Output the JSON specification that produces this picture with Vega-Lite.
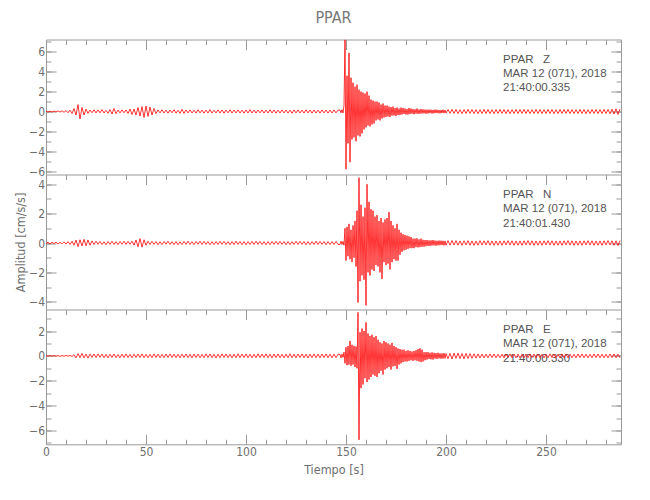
{
"$schema": "https://vega.github.io/schema/vega-lite/v6.json",
"padding": {"left": 14, "top": 9.5, "right": 5, "bottom": 5},
"background": "white",
"datasets": {
"ann": [
{"p":1,"t":228.5,"y":5.19,"label":"PPAR\u00a0\u00a0\u00a0Z"},
{"p":1,"t":228.5,"y":3.76,"label":"MAR 12 (071), 2018"},
{"p":1,"t":228.5,"y":2.32,"label":"21:40:00.335"},
{"p":2,"t":228.5,"y":3.28,"label":"PPAR\u00a0\u00a0\u00a0N"},
{"p":2,"t":228.5,"y":2.28,"label":"MAR 12 (071), 2018"},
{"p":2,"t":228.5,"y":1.29,"label":"21:40:01.430"},
{"p":3,"t":228.5,"y":2.07,"label":"PPAR\u00a0\u00a0\u00a0E"},
{"p":3,"t":228.5,"y":0.94,"label":"MAR 12 (071), 2018"},
{"p":3,"t":228.5,"y":-0.26,"label":"21:40:00.330"}
],
"wave": [
{"t":0,"z":0.03,"n":-0.04,"e":0.02},
{"t":1,"z":-0.05,"n":0.05,"e":-0.03},
{"t":2,"z":0.04,"n":-0.06,"e":0.03},
{"t":3,"z":-0.06,"n":0.05,"e":-0.02},
{"t":4,"z":0.05,"n":-0.04,"e":0.03},
{"t":5,"z":-0.04,"n":0.06,"e":-0.03},
{"t":6,"z":0.06,"n":-0.07,"e":0.02},
{"t":7,"z":-0.05,"n":0.05,"e":-0.04},
{"t":8,"z":0.07,"n":-0.06,"e":0.03},
{"t":9,"z":-0.08,"n":0.08,"e":-0.03},
{"t":10,"z":0.1,"n":-0.07,"e":0.04},
{"t":11,"z":-0.12,"n":0.09,"e":-0.03},
{"t":12,"z":0.14,"n":-0.1,"e":0.04},
{"t":13,"z":-0.2,"n":0.12,"e":-0.05},
{"t":14,"z":0.3,"n":-0.15,"e":0.1},
{"t":15,"z":-0.35,"n":0.2,"e":-0.15},
{"t":16,"z":0.7,"n":-0.25,"e":0.18},
{"t":17,"z":-0.75,"n":0.22,"e":-0.14},
{"t":18,"z":0.4,"n":-0.2,"e":0.2},
{"t":19,"z":-0.35,"n":0.25,"e":-0.16},
{"t":20,"z":0.25,"n":-0.18,"e":0.15},
{"t":21,"z":-0.2,"n":0.2,"e":-0.18},
{"t":22,"z":0.15,"n":-0.15,"e":0.14},
{"t":23,"z":-0.12,"n":0.14,"e":-0.12},
{"t":24,"z":0.18,"n":-0.1,"e":0.15},
{"t":25,"z":-0.14,"n":0.12,"e":-0.13},
{"t":26,"z":0.16,"n":-0.09,"e":0.16},
{"t":27,"z":-0.13,"n":0.11,"e":-0.11},
{"t":28,"z":0.2,"n":-0.1,"e":0.14},
{"t":29,"z":-0.15,"n":0.08,"e":-0.15},
{"t":30,"z":0.12,"n":-0.12,"e":0.12},
{"t":31,"z":-0.17,"n":0.1,"e":-0.16},
{"t":32,"z":0.2,"n":-0.09,"e":0.13},
{"t":33,"z":-0.25,"n":0.12,"e":-0.12},
{"t":34,"z":0.3,"n":-0.1,"e":0.15},
{"t":35,"z":-0.22,"n":0.09,"e":-0.14},
{"t":36,"z":0.15,"n":-0.11,"e":0.11},
{"t":37,"z":-0.14,"n":0.1,"e":-0.15},
{"t":38,"z":0.17,"n":-0.08,"e":0.14},
{"t":39,"z":-0.12,"n":0.12,"e":-0.12},
{"t":40,"z":0.16,"n":-0.1,"e":0.16},
{"t":41,"z":-0.2,"n":0.11,"e":-0.13},
{"t":42,"z":0.25,"n":-0.09,"e":0.12},
{"t":43,"z":-0.3,"n":0.12,"e":-0.15},
{"t":44,"z":0.25,"n":-0.14,"e":0.14},
{"t":45,"z":-0.35,"n":0.2,"e":-0.12},
{"t":46,"z":0.4,"n":-0.25,"e":0.15},
{"t":47,"z":-0.45,"n":0.3,"e":-0.13},
{"t":48,"z":0.5,"n":-0.28,"e":0.16},
{"t":49,"z":-0.6,"n":0.22,"e":-0.14},
{"t":50,"z":0.55,"n":-0.15,"e":0.12},
{"t":51,"z":-0.5,"n":0.12,"e":-0.15},
{"t":52,"z":0.45,"n":-0.1,"e":0.13},
{"t":53,"z":-0.35,"n":0.11,"e":-0.14},
{"t":54,"z":0.3,"n":-0.09,"e":0.16},
{"t":55,"z":-0.2,"n":0.1,"e":-0.12},
{"t":56,"z":0.16,"n":-0.12,"e":0.14},
{"t":57,"z":-0.13,"n":0.09,"e":-0.15},
{"t":58,"z":0.18,"n":-0.11,"e":0.12},
{"t":59,"z":-0.15,"n":0.1,"e":-0.14},
{"t":60,"z":0.14,"n":-0.08,"e":0.15},
{"t":61,"z":-0.17,"n":0.12,"e":-0.13},
{"t":62,"z":0.15,"n":-0.1,"e":0.16},
{"t":63,"z":-0.12,"n":0.09,"e":-0.12},
{"t":64,"z":0.19,"n":-0.11,"e":0.14},
{"t":65,"z":-0.16,"n":0.1,"e":-0.15},
{"t":66,"z":0.13,"n":-0.12,"e":0.13},
{"t":67,"z":-0.18,"n":0.08,"e":-0.16},
{"t":68,"z":0.22,"n":-0.1,"e":0.14},
{"t":69,"z":-0.2,"n":0.11,"e":-0.12},
{"t":70,"z":0.16,"n":-0.09,"e":0.15},
{"t":71,"z":-0.14,"n":0.12,"e":-0.14},
{"t":72,"z":0.17,"n":-0.1,"e":0.13},
{"t":73,"z":-0.15,"n":0.09,"e":-0.16},
{"t":74,"z":0.13,"n":-0.11,"e":0.15},
{"t":75,"z":-0.16,"n":0.1,"e":-0.13},
{"t":76,"z":0.18,"n":-0.08,"e":0.14},
{"t":77,"z":-0.13,"n":0.12,"e":-0.15},
{"t":78,"z":0.15,"n":-0.1,"e":0.12},
{"t":79,"z":-0.17,"n":0.11,"e":-0.14},
{"t":80,"z":0.14,"n":-0.09,"e":0.16},
{"t":81,"z":-0.15,"n":0.1,"e":-0.13},
{"t":82,"z":0.2,"n":-0.12,"e":0.15},
{"t":83,"z":-0.16,"n":0.09,"e":-0.14},
{"t":84,"z":0.13,"n":-0.11,"e":0.13},
{"t":85,"z":-0.14,"n":0.1,"e":-0.17},
{"t":86,"z":0.17,"n":-0.1,"e":0.14},
{"t":87,"z":-0.15,"n":0.12,"e":-0.15},
{"t":88,"z":0.16,"n":-0.09,"e":0.16},
{"t":89,"z":-0.18,"n":0.11,"e":-0.13},
{"t":90,"z":0.14,"n":-0.1,"e":0.15},
{"t":91,"z":-0.13,"n":0.09,"e":-0.14},
{"t":92,"z":0.18,"n":-0.12,"e":0.13},
{"t":93,"z":-0.16,"n":0.1,"e":-0.16},
{"t":94,"z":0.15,"n":-0.11,"e":0.14},
{"t":95,"z":-0.14,"n":0.12,"e":-0.15},
{"t":96,"z":0.17,"n":-0.09,"e":0.17},
{"t":97,"z":-0.15,"n":0.1,"e":-0.14},
{"t":98,"z":0.13,"n":-0.11,"e":0.15},
{"t":99,"z":-0.17,"n":0.1,"e":-0.13},
{"t":100,"z":0.16,"n":-0.12,"e":0.16},
{"t":101,"z":-0.14,"n":0.09,"e":-0.15},
{"t":102,"z":0.19,"n":-0.1,"e":0.14},
{"t":103,"z":-0.15,"n":0.11,"e":-0.16},
{"t":104,"z":0.14,"n":-0.1,"e":0.13},
{"t":105,"z":-0.16,"n":0.12,"e":-0.15},
{"t":106,"z":0.15,"n":-0.09,"e":0.17},
{"t":107,"z":-0.13,"n":0.11,"e":-0.14},
{"t":108,"z":0.17,"n":-0.1,"e":0.15},
{"t":109,"z":-0.16,"n":0.09,"e":-0.13},
{"t":110,"z":0.14,"n":-0.12,"e":0.16},
{"t":111,"z":-0.15,"n":0.1,"e":-0.15},
{"t":112,"z":0.18,"n":-0.11,"e":0.14},
{"t":113,"z":-0.14,"n":0.1,"e":-0.17},
{"t":114,"z":0.16,"n":-0.09,"e":0.15},
{"t":115,"z":-0.17,"n":0.12,"e":-0.14},
{"t":116,"z":0.13,"n":-0.1,"e":0.16},
{"t":117,"z":-0.15,"n":0.11,"e":-0.15},
{"t":118,"z":0.17,"n":-0.09,"e":0.13},
{"t":119,"z":-0.14,"n":0.1,"e":-0.16},
{"t":120,"z":0.15,"n":-0.12,"e":0.15},
{"t":121,"z":-0.16,"n":0.1,"e":-0.14},
{"t":122,"z":0.14,"n":-0.11,"e":0.17},
{"t":123,"z":-0.18,"n":0.09,"e":-0.15},
{"t":124,"z":0.16,"n":-0.1,"e":0.14},
{"t":125,"z":-0.13,"n":0.12,"e":-0.16},
{"t":126,"z":0.17,"n":-0.1,"e":0.15},
{"t":127,"z":-0.15,"n":0.11,"e":-0.13},
{"t":128,"z":0.14,"n":-0.09,"e":0.16},
{"t":129,"z":-0.16,"n":0.1,"e":-0.15},
{"t":130,"z":0.18,"n":-0.12,"e":0.14},
{"t":131,"z":-0.14,"n":0.1,"e":-0.17},
{"t":132,"z":0.15,"n":-0.11,"e":0.15},
{"t":133,"z":-0.17,"n":0.09,"e":-0.14},
{"t":134,"z":0.16,"n":-0.1,"e":0.16},
{"t":135,"z":-0.15,"n":0.12,"e":-0.15},
{"t":136,"z":0.13,"n":-0.1,"e":0.14},
{"t":137,"z":-0.16,"n":0.11,"e":-0.16},
{"t":138,"z":0.17,"n":-0.09,"e":0.15},
{"t":139,"z":-0.14,"n":0.1,"e":-0.13},
{"t":140,"z":0.15,"n":-0.12,"e":0.16},
{"t":141,"z":-0.16,"n":0.1,"e":-0.15},
{"t":142,"z":0.14,"n":-0.11,"e":0.14},
{"t":143,"z":-0.15,"n":0.09,"e":-0.16},
{"t":144,"z":0.17,"n":-0.1,"e":0.15},
{"t":145,"z":-0.13,"n":0.11,"e":-0.14},
{"t":146,"z":0.15,"n":-0.1,"e":0.13},
{"t":147,"z":0.15,"n":-0.1,"e":0.12},
{"t":147.5,"z":-0.12,"n":0.12,"e":-0.15},
{"t":148,"z":0.18,"n":-0.1,"e":0.14},
{"t":148.5,"z":-0.15,"n":0.1,"e":-0.12},
{"t":149,"z":0.6,"n":-0.15,"e":0.3},
{"t":149.5,"z":7.2,"n":1.0,"e":-0.6},
{"t":150,"z":-5.8,"n":-1.2,"e":0.7},
{"t":150.5,"z":3.6,"n":1.1,"e":-0.75},
{"t":151,"z":-3.2,"n":-0.9,"e":0.8},
{"t":151.5,"z":5.9,"n":1.3,"e":-0.7},
{"t":152,"z":-5.1,"n":-1.1,"e":1.2},
{"t":152.5,"z":3.4,"n":0.9,"e":-0.8},
{"t":153,"z":-2.8,"n":-1.3,"e":0.9},
{"t":153.5,"z":2.9,"n":1.2,"e":-0.7},
{"t":154,"z":-2.6,"n":-1.0,"e":0.8},
{"t":154.5,"z":2.5,"n":1.5,"e":-0.9},
{"t":155,"z":-3.0,"n":-1.6,"e":0.75},
{"t":155.5,"z":2.7,"n":2.2,"e":-1.0},
{"t":156,"z":-2.4,"n":-4.05,"e":3.5},
{"t":156.5,"z":2.2,"n":4.45,"e":-6.75},
{"t":157,"z":-2.5,"n":-2.6,"e":1.9},
{"t":157.5,"z":2.0,"n":2.6,"e":-2.6},
{"t":158,"z":-2.2,"n":-2.2,"e":2.2},
{"t":158.5,"z":1.9,"n":1.8,"e":-2.3},
{"t":159,"z":-1.8,"n":-2.5,"e":2.0},
{"t":159.5,"z":1.8,"n":2.4,"e":-1.8},
{"t":160,"z":-1.6,"n":-4.25,"e":2.7},
{"t":160.5,"z":2.0,"n":4.0,"e":-2.1},
{"t":161,"z":-1.4,"n":-2.0,"e":1.8},
{"t":161.5,"z":1.6,"n":2.8,"e":-1.9},
{"t":162,"z":-1.5,"n":-2.2,"e":1.6},
{"t":162.5,"z":1.2,"n":2.3,"e":-1.7},
{"t":163,"z":-1.3,"n":-1.8,"e":1.7},
{"t":163.5,"z":1.1,"n":2.2,"e":-1.5},
{"t":164,"z":-1.2,"n":-1.9,"e":1.5},
{"t":164.5,"z":1.0,"n":1.8,"e":-1.6},
{"t":165,"z":-0.9,"n":-1.5,"e":1.6},
{"t":165.5,"z":1.0,"n":1.9,"e":-1.7},
{"t":166,"z":-0.8,"n":-1.6,"e":1.3},
{"t":166.5,"z":0.9,"n":1.5,"e":-1.4},
{"t":167,"z":-0.9,"n":-2.0,"e":1.1},
{"t":167.5,"z":0.7,"n":1.7,"e":-1.2},
{"t":168,"z":-0.7,"n":-2.45,"e":1.0},
{"t":168.5,"z":0.8,"n":1.4,"e":-1.5},
{"t":169,"z":-0.6,"n":-1.3,"e":1.2},
{"t":169.5,"z":0.6,"n":1.6,"e":-1.1},
{"t":170,"z":-0.55,"n":-1.5,"e":1.1},
{"t":170.5,"z":0.6,"n":1.7,"e":-1.0},
{"t":171,"z":-0.5,"n":-1.4,"e":1.0},
{"t":171.5,"z":0.5,"n":2.1,"e":-0.9},
{"t":172,"z":-0.55,"n":-1.8,"e":0.9},
{"t":172.5,"z":0.45,"n":1.5,"e":-1.1},
{"t":173,"z":-0.4,"n":-1.3,"e":1.05},
{"t":173.5,"z":0.5,"n":1.2,"e":-0.85},
{"t":174,"z":-0.4,"n":-1.1,"e":0.8},
{"t":174.5,"z":0.35,"n":1.0,"e":-0.8},
{"t":175,"z":-0.45,"n":-1.2,"e":0.7},
{"t":175.5,"z":0.4,"n":1.3,"e":-1.05},
{"t":176,"z":-0.35,"n":-1.2,"e":0.6},
{"t":176.5,"z":0.3,"n":0.9,"e":-0.7},
{"t":177,"z":-0.35,"n":-0.8,"e":0.55},
{"t":177.5,"z":0.4,"n":0.7,"e":-0.6},
{"t":178,"z":-0.3,"n":-0.6,"e":0.5},
{"t":178.5,"z":0.35,"n":0.6,"e":-0.5},
{"t":179,"z":-0.25,"n":-0.5,"e":0.5},
{"t":179.5,"z":0.3,"n":0.55,"e":-0.45},
{"t":180,"z":-0.3,"n":-0.45,"e":0.4},
{"t":180.5,"z":0.25,"n":0.5,"e":-0.45},
{"t":181,"z":-0.3,"n":-0.4,"e":0.45},
{"t":181.5,"z":0.35,"n":0.45,"e":-0.4},
{"t":182,"z":-0.25,"n":-0.35,"e":0.4},
{"t":182.5,"z":0.3,"n":0.4,"e":-0.35},
{"t":183,"z":-0.22,"n":-0.35,"e":0.35},
{"t":183.5,"z":0.25,"n":0.3,"e":-0.4},
{"t":184,"z":-0.28,"n":-0.35,"e":0.4},
{"t":184.5,"z":0.22,"n":0.3,"e":-0.35},
{"t":185,"z":-0.2,"n":-0.28,"e":0.45},
{"t":185.5,"z":0.3,"n":0.32,"e":-0.4},
{"t":186,"z":-0.25,"n":-0.3,"e":0.55},
{"t":186.5,"z":0.2,"n":0.25,"e":-0.45},
{"t":187,"z":-0.22,"n":-0.28,"e":0.6},
{"t":187.5,"z":0.25,"n":0.3,"e":-0.5},
{"t":188,"z":-0.2,"n":-0.25,"e":0.5},
{"t":188.5,"z":0.22,"n":0.22,"e":-0.45},
{"t":189,"z":-0.18,"n":-0.25,"e":0.3},
{"t":189.5,"z":0.2,"n":0.2,"e":-0.35},
{"t":190,"z":-0.22,"n":-0.22,"e":0.3},
{"t":190.5,"z":0.18,"n":0.2,"e":-0.3},
{"t":191,"z":-0.2,"n":-0.2,"e":0.3},
{"t":191.5,"z":0.2,"n":0.18,"e":-0.25},
{"t":192,"z":-0.16,"n":-0.2,"e":0.25},
{"t":192.5,"z":0.18,"n":0.18,"e":-0.28},
{"t":193,"z":-0.2,"n":-0.17,"e":0.28},
{"t":193.5,"z":0.16,"n":0.2,"e":-0.3},
{"t":194,"z":-0.18,"n":-0.16,"e":0.25},
{"t":194.5,"z":0.2,"n":0.17,"e":-0.22},
{"t":195,"z":-0.15,"n":-0.18,"e":0.22},
{"t":195.5,"z":0.18,"n":0.15,"e":-0.25},
{"t":196,"z":-0.17,"n":-0.16,"e":0.25},
{"t":196.5,"z":0.15,"n":0.17,"e":-0.2},
{"t":197,"z":-0.18,"n":-0.15,"e":0.2},
{"t":197.5,"z":0.16,"n":0.16,"e":-0.22},
{"t":198,"z":-0.15,"n":-0.14,"e":0.2},
{"t":198.5,"z":0.18,"n":0.15,"e":-0.22},
{"t":199,"z":-0.16,"n":-0.16,"e":0.22},
{"t":199.5,"z":0.15,"n":0.14,"e":-0.2},
{"t":200,"z":-0.17,"n":-0.15,"e":0.18},
{"t":201,"z":0.2,"n":0.16,"e":-0.22},
{"t":202,"z":-0.18,"n":-0.15,"e":0.2},
{"t":203,"z":0.22,"n":0.17,"e":-0.25},
{"t":204,"z":-0.19,"n":-0.14,"e":0.22},
{"t":205,"z":0.21,"n":0.16,"e":-0.2},
{"t":206,"z":-0.2,"n":-0.15,"e":0.23},
{"t":207,"z":0.18,"n":0.14,"e":-0.22},
{"t":208,"z":-0.22,"n":-0.16,"e":0.19},
{"t":209,"z":0.19,"n":0.15,"e":-0.24},
{"t":210,"z":-0.2,"n":-0.13,"e":0.2},
{"t":211,"z":0.23,"n":0.16,"e":-0.21},
{"t":212,"z":-0.18,"n":-0.15,"e":0.18},
{"t":213,"z":0.2,"n":0.14,"e":-0.2},
{"t":214,"z":-0.21,"n":-0.16,"e":0.17},
{"t":215,"z":0.19,"n":0.13,"e":-0.18},
{"t":216,"z":-0.22,"n":-0.15,"e":0.16},
{"t":217,"z":0.18,"n":0.16,"e":-0.17},
{"t":218,"z":-0.2,"n":-0.14,"e":0.15},
{"t":219,"z":0.22,"n":0.15,"e":-0.16},
{"t":220,"z":-0.19,"n":-0.13,"e":0.14},
{"t":221,"z":0.21,"n":0.16,"e":-0.15},
{"t":222,"z":-0.2,"n":-0.15,"e":0.16},
{"t":223,"z":0.18,"n":0.14,"e":-0.14},
{"t":224,"z":-0.22,"n":-0.16,"e":0.15},
{"t":225,"z":0.2,"n":0.13,"e":-0.16},
{"t":226,"z":-0.19,"n":-0.15,"e":0.13},
{"t":227,"z":0.21,"n":0.14,"e":-0.15},
{"t":228,"z":-0.18,"n":-0.16,"e":0.14},
{"t":229,"z":0.2,"n":0.15,"e":-0.16},
{"t":230,"z":-0.21,"n":-0.13,"e":0.15},
{"t":231,"z":0.19,"n":0.16,"e":-0.13},
{"t":232,"z":-0.22,"n":-0.14,"e":0.16},
{"t":233,"z":0.18,"n":0.15,"e":-0.14},
{"t":234,"z":-0.2,"n":-0.16,"e":0.15},
{"t":235,"z":0.21,"n":0.13,"e":-0.16},
{"t":236,"z":-0.19,"n":-0.15,"e":0.14},
{"t":237,"z":0.2,"n":0.14,"e":-0.15},
{"t":238,"z":-0.18,"n":-0.16,"e":0.13},
{"t":239,"z":0.22,"n":0.15,"e":-0.16},
{"t":240,"z":-0.2,"n":-0.13,"e":0.15},
{"t":241,"z":0.19,"n":0.16,"e":-0.14},
{"t":242,"z":-0.21,"n":-0.14,"e":0.16},
{"t":243,"z":0.18,"n":0.15,"e":-0.13},
{"t":244,"z":-0.2,"n":-0.16,"e":0.15},
{"t":245,"z":0.22,"n":0.13,"e":-0.16},
{"t":246,"z":-0.19,"n":-0.15,"e":0.14},
{"t":247,"z":0.2,"n":0.14,"e":-0.15},
{"t":248,"z":-0.21,"n":-0.16,"e":0.13},
{"t":249,"z":0.18,"n":0.15,"e":-0.16},
{"t":250,"z":-0.2,"n":-0.13,"e":0.14},
{"t":251,"z":0.21,"n":0.16,"e":-0.15},
{"t":252,"z":-0.19,"n":-0.14,"e":0.16},
{"t":253,"z":0.2,"n":0.15,"e":-0.14},
{"t":254,"z":-0.22,"n":-0.16,"e":0.15},
{"t":255,"z":0.18,"n":0.13,"e":-0.16},
{"t":256,"z":-0.2,"n":-0.15,"e":0.13},
{"t":257,"z":0.21,"n":0.14,"e":-0.15},
{"t":258,"z":-0.19,"n":-0.16,"e":0.16},
{"t":259,"z":0.2,"n":0.15,"e":-0.14},
{"t":260,"z":-0.18,"n":-0.13,"e":0.15},
{"t":261,"z":0.22,"n":0.16,"e":-0.16},
{"t":262,"z":-0.2,"n":-0.14,"e":0.14},
{"t":263,"z":0.19,"n":0.15,"e":-0.15},
{"t":264,"z":-0.21,"n":-0.16,"e":0.13},
{"t":265,"z":0.18,"n":0.13,"e":-0.16},
{"t":266,"z":-0.2,"n":-0.15,"e":0.15},
{"t":267,"z":0.21,"n":0.14,"e":-0.14},
{"t":268,"z":-0.19,"n":-0.16,"e":0.16},
{"t":269,"z":0.2,"n":0.15,"e":-0.15},
{"t":270,"z":-0.22,"n":-0.13,"e":0.14},
{"t":271,"z":0.18,"n":0.16,"e":-0.16},
{"t":272,"z":-0.2,"n":-0.14,"e":0.13},
{"t":273,"z":0.21,"n":0.15,"e":-0.15},
{"t":274,"z":-0.19,"n":-0.16,"e":0.16},
{"t":275,"z":0.2,"n":0.13,"e":-0.14},
{"t":276,"z":-0.21,"n":-0.15,"e":0.15},
{"t":277,"z":0.18,"n":0.14,"e":-0.16},
{"t":278,"z":-0.2,"n":-0.16,"e":0.14},
{"t":279,"z":0.22,"n":0.15,"e":-0.15},
{"t":280,"z":-0.19,"n":-0.13,"e":0.13},
{"t":281,"z":0.2,"n":0.16,"e":-0.16},
{"t":282,"z":-0.21,"n":-0.14,"e":0.15},
{"t":283,"z":0.23,"n":0.15,"e":-0.14},
{"t":284,"z":-0.25,"n":-0.16,"e":0.16},
{"t":285,"z":0.28,"n":0.15,"e":-0.15},
{"t":286,"z":-0.3,"n":-0.17,"e":0.14},
{"t":287,"z":0.25,"n":0.16,"e":-0.15}
]
},
"config": {
"view": {"stroke": null},
"axis": {"grid": false, "domainColor": "#999999", "tickColor": "#999999", "domainWidth": 1, "tickWidth": 1,
"labelColor": "#6e6e6e", "labelFont": "'Liberation Sans Narrow', 'DejaVu Sans Condensed', 'Liberation Sans', sans-serif", "labelFontSize": 12, "labelFlush": false, "labelOverlap": false,
"titleFont": "'Liberation Sans Narrow', 'DejaVu Sans Condensed', 'Liberation Sans', sans-serif", "titleFontWeight": "normal", "titleColor": "#6e6e6e"}
},
"spacing": 0,
"bounds": "flush",
"vconcat": [
{
"width": 575, "height": 134.8,
"title": {"text": "PPAR", "anchor": "middle", "frame": "group", "fontSize": 16, "font": "'Liberation Sans Narrow', 'DejaVu Sans Condensed', 'Liberation Sans', sans-serif", "fontWeight": "normal", "color": "#777777", "offset": 12},
"data": {"name": "wave"},
"layer": [
{"data": {"name": "ann"}, "transform": [{"filter": "datum.p == 1"}],
 "mark": {"type": "text", "align": "left", "baseline": "middle", "font": "'Liberation Sans', sans-serif", "fontSize": 11.5, "color": "#555555"},
 "encoding": {"x": {"field": "t", "type": "quantitative", "scale": {"domain": [0, 287.5], "nice": false, "zero": false}, "axis": null},
  "y": {"field": "y", "type": "quantitative", "scale": {"domain": [-6.31, 7.24], "nice": false, "zero": false}, "axis": null},
  "text": {"field": "label"}}},
{"mark": {"type": "line", "color": "#ff0000", "strokeWidth": 0.8},
 "encoding": {"x": {"field": "t", "type": "quantitative", "scale": {"domain": [0, 287.5], "nice": false, "zero": false}, "axis": {"orient": "top", "values": [0,50,100,150,200,250], "tickSize": -10, "labels": false, "title": null}},
  "y": {"field": "z", "type": "quantitative", "scale": {"domain": [-6.31, 7.24], "nice": false, "zero": false}, "axis": {"orient": "left", "values": [-6,-4,-2,0,2,4,6], "tickSize": -10, "labelPadding": 11.5, "title": null}}}},
{"mark": {"type": "line", "opacity": 0},
 "encoding": {"x": {"field": "t", "type": "quantitative", "scale": {"domain": [0, 287.5], "nice": false, "zero": false}, "axis": {"orient": "top", "values": [0,10,20,30,40,50,60,70,80,90,100,110,120,130,140,150,160,170,180,190,200,210,220,230,240,250,260,270,280], "tickSize": -5, "labels": false, "domain": false, "title": null}},
  "y": {"field": "z", "type": "quantitative", "scale": {"domain": [-6.31, 7.24], "nice": false, "zero": false}, "axis": {"orient": "left", "values": [-6,-5,-4,-3,-2,-1,0,1,2,3,4,5,6,7], "tickSize": -5, "labels": false, "domain": false, "title": null}}}},
{"mark": {"type": "line", "opacity": 0},
 "encoding": {"x": {"field": "t", "type": "quantitative", "scale": {"domain": [0, 287.5], "nice": false, "zero": false}, "axis": null},
  "y": {"field": "z", "type": "quantitative", "scale": {"domain": [-6.31, 7.24], "nice": false, "zero": false}, "axis": {"orient": "right", "values": [-6,-4,-2,0,2,4,6], "tickSize": -10, "labels": false, "title": null}}}},
{"mark": {"type": "line", "opacity": 0},
 "encoding": {"x": {"field": "t", "type": "quantitative", "scale": {"domain": [0, 287.5], "nice": false, "zero": false}, "axis": null},
  "y": {"field": "z", "type": "quantitative", "scale": {"domain": [-6.31, 7.24], "nice": false, "zero": false}, "axis": {"orient": "right", "values": [-6,-5,-4,-3,-2,-1,0,1,2,3,4,5,6,7], "tickSize": -5, "labels": false, "domain": false, "title": null}}}}
],
"resolve": {"axis": {"x": "independent", "y": "independent"}}
},
{
"width": 575, "height": 134.8,
"data": {"name": "wave"},
"layer": [
{"data": {"name": "ann"}, "transform": [{"filter": "datum.p == 2"}],
 "mark": {"type": "text", "align": "left", "baseline": "middle", "font": "'Liberation Sans', sans-serif", "fontSize": 11.5, "color": "#555555"},
 "encoding": {"x": {"field": "t", "type": "quantitative", "scale": {"domain": [0, 287.5], "nice": false, "zero": false}, "axis": null},
  "y": {"field": "y", "type": "quantitative", "scale": {"domain": [-4.51, 4.66], "nice": false, "zero": false}, "axis": null},
  "text": {"field": "label"}}},
{"mark": {"type": "line", "color": "#ff0000", "strokeWidth": 0.8},
 "encoding": {"x": {"field": "t", "type": "quantitative", "scale": {"domain": [0, 287.5], "nice": false, "zero": false}, "axis": {"orient": "top", "values": [0,50,100,150,200,250], "tickSize": -10, "labels": false, "title": null}},
  "y": {"field": "n", "type": "quantitative", "scale": {"domain": [-4.51, 4.66], "nice": false, "zero": false}, "axis": {"orient": "left", "values": [-4,-2,0,2,4], "tickSize": -10, "labelPadding": 11.5, "title": "Amplitud [cm/s/s]", "titleFontSize": 12.5, "titlePadding": 1}}}},
{"mark": {"type": "line", "opacity": 0},
 "encoding": {"x": {"field": "t", "type": "quantitative", "scale": {"domain": [0, 287.5], "nice": false, "zero": false}, "axis": {"orient": "top", "values": [0,10,20,30,40,50,60,70,80,90,100,110,120,130,140,150,160,170,180,190,200,210,220,230,240,250,260,270,280], "tickSize": -5, "labels": false, "domain": false, "title": null}},
  "y": {"field": "n", "type": "quantitative", "scale": {"domain": [-4.51, 4.66], "nice": false, "zero": false}, "axis": {"orient": "left", "values": [-4,-3,-2,-1,0,1,2,3,4], "tickSize": -5, "labels": false, "domain": false, "title": null}}}},
{"mark": {"type": "line", "opacity": 0},
 "encoding": {"x": {"field": "t", "type": "quantitative", "scale": {"domain": [0, 287.5], "nice": false, "zero": false}, "axis": null},
  "y": {"field": "n", "type": "quantitative", "scale": {"domain": [-4.51, 4.66], "nice": false, "zero": false}, "axis": {"orient": "right", "values": [-4,-2,0,2,4], "tickSize": -10, "labels": false, "title": null}}}},
{"mark": {"type": "line", "opacity": 0},
 "encoding": {"x": {"field": "t", "type": "quantitative", "scale": {"domain": [0, 287.5], "nice": false, "zero": false}, "axis": null},
  "y": {"field": "n", "type": "quantitative", "scale": {"domain": [-4.51, 4.66], "nice": false, "zero": false}, "axis": {"orient": "right", "values": [-4,-3,-2,-1,0,1,2,3,4], "tickSize": -5, "labels": false, "domain": false, "title": null}}}}
],
"resolve": {"axis": {"x": "independent", "y": "independent"}}
},
{
"width": 575, "height": 134.8,
"data": {"name": "wave"},
"layer": [
{"data": {"name": "ann"}, "transform": [{"filter": "datum.p == 3"}],
 "mark": {"type": "text", "align": "left", "baseline": "middle", "font": "'Liberation Sans', sans-serif", "fontSize": 11.5, "color": "#555555"},
 "encoding": {"x": {"field": "t", "type": "quantitative", "scale": {"domain": [0, 287.5], "nice": false, "zero": false}, "axis": null},
  "y": {"field": "y", "type": "quantitative", "scale": {"domain": [-7.11, 3.73], "nice": false, "zero": false}, "axis": null},
  "text": {"field": "label"}}},
{"mark": {"type": "line", "color": "#ff0000", "strokeWidth": 0.8},
 "encoding": {"x": {"field": "t", "type": "quantitative", "scale": {"domain": [0, 287.5], "nice": false, "zero": false}, "axis": {"orient": "top", "values": [0,50,100,150,200,250], "tickSize": -10, "labels": false, "title": null}},
  "y": {"field": "e", "type": "quantitative", "scale": {"domain": [-7.11, 3.73], "nice": false, "zero": false}, "axis": {"orient": "left", "values": [-6,-4,-2,0,2], "tickSize": -10, "labelPadding": 11.5, "title": null}}}},
{"mark": {"type": "line", "opacity": 0},
 "encoding": {"x": {"field": "t", "type": "quantitative", "scale": {"domain": [0, 287.5], "nice": false, "zero": false}, "axis": {"orient": "top", "values": [0,10,20,30,40,50,60,70,80,90,100,110,120,130,140,150,160,170,180,190,200,210,220,230,240,250,260,270,280], "tickSize": -5, "labels": false, "domain": false, "title": null}},
  "y": {"field": "e", "type": "quantitative", "scale": {"domain": [-7.11, 3.73], "nice": false, "zero": false}, "axis": {"orient": "left", "values": [-7,-6,-5,-4,-3,-2,-1,0,1,2,3], "tickSize": -5, "labels": false, "domain": false, "title": null}}}},
{"mark": {"type": "line", "opacity": 0},
 "encoding": {"x": {"field": "t", "type": "quantitative", "scale": {"domain": [0, 287.5], "nice": false, "zero": false}, "axis": {"orient": "bottom", "values": [0,50,100,150,200,250], "tickSize": -10, "labelPadding": 12.5, "labelExpr": "datum.value == 0 ? '0\u2007\u2007' : (datum.value == 50 ? '50\u2007' : datum.label)", "title": "Tiempo [s]", "titleFontSize": 12.5, "titlePadding": 6}},
  "y": {"field": "e", "type": "quantitative", "scale": {"domain": [-7.11, 3.73], "nice": false, "zero": false}, "axis": {"orient": "right", "values": [-6,-4,-2,0,2], "tickSize": -10, "labels": false, "title": null}}}},
{"mark": {"type": "line", "opacity": 0},
 "encoding": {"x": {"field": "t", "type": "quantitative", "scale": {"domain": [0, 287.5], "nice": false, "zero": false}, "axis": {"orient": "bottom", "values": [0,10,20,30,40,50,60,70,80,90,100,110,120,130,140,150,160,170,180,190,200,210,220,230,240,250,260,270,280], "tickSize": -5, "labels": false, "domain": false, "title": null}},
  "y": {"field": "e", "type": "quantitative", "scale": {"domain": [-7.11, 3.73], "nice": false, "zero": false}, "axis": {"orient": "right", "values": [-7,-6,-5,-4,-3,-2,-1,0,1,2,3], "tickSize": -5, "labels": false, "domain": false, "title": null}}}}
],
"resolve": {"axis": {"x": "independent", "y": "independent"}}
}
]
}
